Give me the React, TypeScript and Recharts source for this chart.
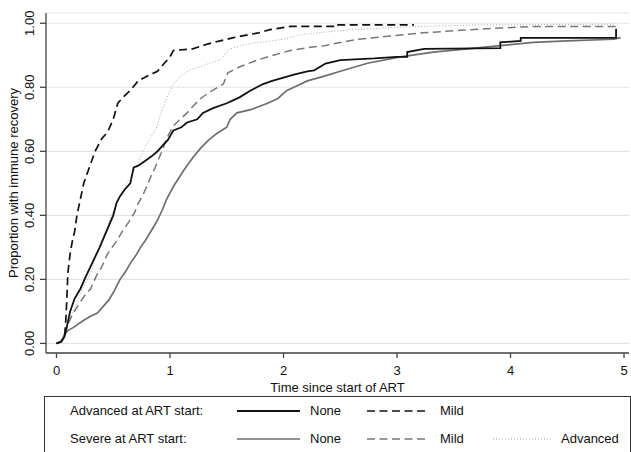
import { LineChart, Line, XAxis, YAxis, CartesianGrid } from 'recharts';

// Kaplan-Meier style curves: time since ART start (years) vs proportion recovered
const advNoneT = [0, 0.04, 0.07, 0.09, 0.12, 0.16, 0.21, 0.26, 0.3, 0.34, 0.38, 0.44, 0.5, 0.53, 0.56, 0.6, 0.65, 0.68, 0.72, 0.78, 0.84, 0.89, 0.94, 0.98, 1.03, 1.1, 1.15, 1.24, 1.29, 1.38, 1.5, 1.56, 1.62, 1.71, 1.82, 1.9, 2.0, 2.1, 2.21, 2.27, 2.37, 2.5, 2.8, 3.0, 3.09, 3.09, 3.24, 3.91, 3.91, 4.09, 4.09, 4.93, 4.93];
const advNoneP = [0, 0.005, 0.02, 0.05, 0.1, 0.14, 0.17, 0.21, 0.24, 0.27, 0.3, 0.35, 0.4, 0.44, 0.46, 0.48, 0.5, 0.55, 0.555, 0.57, 0.585, 0.6, 0.62, 0.635, 0.665, 0.675, 0.69, 0.7, 0.72, 0.735, 0.75, 0.76, 0.77, 0.79, 0.81, 0.82, 0.83, 0.84, 0.85, 0.853, 0.874, 0.885, 0.89, 0.895, 0.895, 0.91, 0.92, 0.922, 0.94, 0.945, 0.954, 0.954, 0.983];

const advMildT = [0, 0.04, 0.07, 0.08, 0.09, 0.1, 0.12, 0.14, 0.16, 0.18, 0.21, 0.24, 0.3, 0.34, 0.4, 0.45, 0.5, 0.54, 0.59, 0.65, 0.72, 0.8, 0.89, 0.95, 1.0, 1.03, 1.2, 1.33, 1.44, 1.56, 1.7, 1.78, 1.88, 2.06, 2.48, 2.48, 3.15];
const advMildP = [0, 0.005, 0.02, 0.06, 0.13, 0.22, 0.28, 0.32, 0.35, 0.4, 0.45, 0.5, 0.56, 0.6, 0.64, 0.66, 0.7, 0.75, 0.77, 0.79, 0.82, 0.835, 0.85, 0.875, 0.895, 0.915, 0.92, 0.935, 0.945, 0.955, 0.965, 0.97, 0.98, 0.99, 0.99, 0.995, 0.995];

const sevNoneT = [0, 0.04, 0.075, 0.1, 0.15, 0.23, 0.3, 0.36, 0.41, 0.46, 0.51, 0.56, 0.61, 0.65, 0.7, 0.74, 0.78, 0.84, 0.89, 0.93, 0.97, 1.03, 1.12, 1.2, 1.27, 1.34, 1.41, 1.5, 1.53, 1.59, 1.71, 1.86, 1.95, 2.03, 2.12, 2.21, 2.36, 2.5, 2.74, 3.03, 3.32, 3.62, 3.91, 4.2, 4.5, 4.91, 4.97];
const sevNoneP = [0, 0.005, 0.03, 0.04, 0.05, 0.07, 0.085, 0.095, 0.115, 0.135, 0.165, 0.2, 0.225, 0.25, 0.275, 0.3, 0.32, 0.355, 0.385, 0.415, 0.45, 0.49, 0.54, 0.58, 0.61, 0.635, 0.655, 0.675, 0.7, 0.72, 0.73, 0.75, 0.765, 0.79, 0.805, 0.82, 0.835, 0.85, 0.875, 0.895, 0.91, 0.92, 0.93, 0.94, 0.945, 0.95, 0.955];

const sevMildT = [0, 0.04, 0.075, 0.1, 0.14, 0.21, 0.26, 0.3, 0.35, 0.4, 0.45, 0.53, 0.58, 0.62, 0.69, 0.71, 0.77, 0.83, 0.87, 0.94, 0.97, 1.03, 1.09, 1.15, 1.2, 1.27, 1.35, 1.47, 1.51, 1.62, 1.77, 1.91, 2.06, 2.24, 2.36, 2.65, 2.94, 3.23, 3.56, 3.91, 4.2, 4.94];
const sevMildP = [0, 0.005, 0.03, 0.06, 0.09, 0.13, 0.155, 0.17, 0.21, 0.24, 0.28, 0.32, 0.35, 0.37, 0.41, 0.43, 0.47, 0.52, 0.55, 0.61, 0.64, 0.68, 0.7, 0.72, 0.74, 0.765, 0.785, 0.81, 0.845, 0.865, 0.885, 0.9, 0.915, 0.925, 0.93, 0.95, 0.96, 0.97, 0.978, 0.985, 0.99, 0.99];

const sevAdvT = [0, 0.04, 0.075, 0.1, 0.14, 0.21, 0.3, 0.37, 0.43, 0.47, 0.56, 0.62, 0.68, 0.71, 0.76, 0.85, 0.89, 0.91, 0.98, 1.03, 1.09, 1.18, 1.27, 1.35, 1.44, 1.53, 1.68, 2.0, 2.15, 2.6, 3.2, 3.76, 4.93];
const sevAdvP = [0, 0.005, 0.03, 0.07, 0.095, 0.155, 0.22, 0.29, 0.35, 0.385, 0.46, 0.5, 0.54, 0.55, 0.6, 0.655, 0.68, 0.71, 0.775, 0.81, 0.835, 0.855, 0.865, 0.875, 0.885, 0.92, 0.935, 0.95, 0.965, 0.98, 0.99, 0.995, 0.997];

const xTicks = [0, 1, 2, 3, 4, 5];
const yTicks = [0, 0.2, 0.4, 0.6, 0.8, 1.0];

const toPoints = (t: number[], p: number[]) => t.map((x, i) => ({ t: x, p: p[i] }));

const FONT = '"Liberation Sans", Arial, Helvetica, sans-serif';

function YTick(props: any) {
  const { x, y, payload } = props;
  const tx = x - 5.5;
  return (
    <text x={tx} y={y} transform={`rotate(-90, ${tx}, ${y})`} textAnchor="middle" fontSize={13} fill="#111">
      {Number(payload.value).toFixed(2)}
    </text>
  );
}

function LegendRow({ top, label, items }: { top: number; label: string; items: { x1: number; x2: number; color: string; width: number; dash?: string; text: string; tx: number }[] }) {
  return (
    <>
      <div style={{ position: 'absolute', left: 70, top: top - 8, fontSize: 13, lineHeight: '16px', color: '#111' }}>{label}</div>
      {items.map((it) => (
        <div key={it.text + it.tx}>
          <svg style={{ position: 'absolute', left: 0, top: top - 5 }} width={631} height={10}>
            <line x1={it.x1} x2={it.x2} y1={5} y2={5} stroke={it.color} strokeWidth={it.width} strokeDasharray={it.dash} />
          </svg>
          <div style={{ position: 'absolute', left: it.tx, top: top - 8, fontSize: 13, lineHeight: '16px', color: '#111' }}>{it.text}</div>
        </div>
      ))}
    </>
  );
}

export default function App() {
  return (
    <div style={{ position: 'absolute', left: 0, top: 0, width: 631, height: 452, overflow: 'hidden', background: '#fff', fontFamily: FONT }}>
      <LineChart width={631} height={396} margin={{ top: 13, right: 2, bottom: 0, left: 0 }}>
        <CartesianGrid vertical={false} stroke="#e4e4e4" strokeWidth={1.2} />
        <XAxis
          type="number"
          dataKey="t"
          domain={[-0.0925, 5.044]}
          ticks={xTicks}
          height={43}
          tickSize={5}
          tickMargin={8}
          stroke="#444"
          strokeWidth={1.3}
          tick={{ fontSize: 13, fill: '#111' }}
          allowDataOverflow
          label={{ value: 'Time since start of ART', position: 'insideBottom', offset: 4, fontSize: 13, fill: '#111' }}
        />
        <YAxis
          type="number"
          domain={[-0.03, 1.032]}
          ticks={yTicks}
          width={46}
          tickSize={6}
          tickMargin={0}
          stroke="#444"
          strokeWidth={1.3}
          tick={<YTick />}
          allowDataOverflow
          label={{ value: 'Proportion with immune recovery', angle: -90, position: 'insideLeft', offset: 13, fontSize: 13, fill: '#111', style: { textAnchor: 'middle' } }}
        />
        <Line data={toPoints(sevAdvT, sevAdvP)} dataKey="p" type="linear" stroke="#a8a8a8" strokeWidth={1} strokeDasharray="1 2" dot={false} activeDot={false} isAnimationActive={false} />
        <Line data={toPoints(sevMildT, sevMildP)} dataKey="p" type="linear" stroke="#777" strokeWidth={1.5} strokeDasharray="8 4.5" dot={false} activeDot={false} isAnimationActive={false} />
        <Line data={toPoints(sevNoneT, sevNoneP)} dataKey="p" type="linear" stroke="#6e6e6e" strokeWidth={1.7} dot={false} activeDot={false} isAnimationActive={false} />
        <Line data={toPoints(advMildT, advMildP)} dataKey="p" type="linear" stroke="#111" strokeWidth={1.7} strokeDasharray="8 4.5" dot={false} activeDot={false} isAnimationActive={false} />
        <Line data={toPoints(advNoneT, advNoneP)} dataKey="p" type="linear" stroke="#111" strokeWidth={1.8} dot={false} activeDot={false} isAnimationActive={false} />
      </LineChart>
      <div style={{ position: 'absolute', left: 44, top: 396, width: 585, height: 70, border: '1px solid #333' }} />
      <LegendRow
        top={411}
        label="Advanced at ART start:"
        items={[
          { x1: 237, x2: 300, color: '#111', width: 1.8, text: 'None', tx: 310 },
          { x1: 367, x2: 428, color: '#111', width: 1.7, dash: '8 4.5', text: 'Mild', tx: 440 },
        ]}
      />
      <LegendRow
        top={439}
        label="Severe at ART start:"
        items={[
          { x1: 237, x2: 300, color: '#6e6e6e', width: 1.7, text: 'None', tx: 310 },
          { x1: 367, x2: 428, color: '#777', width: 1.5, dash: '8 4.5', text: 'Mild', tx: 440 },
          { x1: 493, x2: 553, color: '#a8a8a8', width: 1, dash: '1 2', text: 'Advanced', tx: 561 },
        ]}
      />
    </div>
  );
}
